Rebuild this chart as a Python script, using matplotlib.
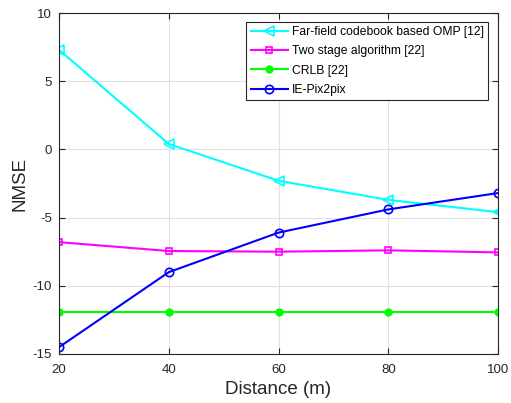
import matplotlib
matplotlib.use("Agg")
import matplotlib.pyplot as plt
import numpy as np

plt.rcParams['font.family'] = ['Liberation Sans', 'DejaVu Sans']
plt.rcParams['axes.unicode_minus'] = False

distance = [20, 40, 60, 80, 100]
omp = [7.3, 0.4, -2.3, -3.7, -4.6]
two_stage = [-6.8, -7.45, -7.5, -7.4, -7.55]
crlb = [-11.9, -11.9, -11.9, -11.9, -11.9]
ie_pix2pix = [-14.5, -9.0, -6.1, -4.4, -3.2]

labels = ['Far-field codebook based OMP [12]', 'Two stage algorithm [22]',
          'CRLB [22]', 'IE-Pix2pix']

fig = plt.figure(figsize=(5.11, 4.03), dpi=100)
ax = fig.add_axes([0.1155, 0.1216, 0.8591, 0.8461])

ax.plot(distance, omp, color='#00ffff', marker='<', mfc='none', ms=7, mew=1.2, lw=1.5, label=labels[0])
ax.plot(distance, two_stage, color='#ff00ff', marker='s', mfc='none', ms=5, mew=1.2, lw=1.5, label=labels[1])
ax.plot(distance, crlb, color='#00ff00', marker='o', ms=5, lw=1.5, label=labels[2])
ax.plot(distance, ie_pix2pix, color='#0000ff', marker='o', mfc='none', ms=6, mew=1.2, lw=1.5, label=labels[3])

ax.set_xlim(20, 100)
ax.set_ylim(-15, 10)
ax.set_xticks([20, 40, 60, 80, 100])
ax.set_yticks([-15, -10, -5, 0, 5, 10])
ax.grid(True, color='#e0e0e0', lw=0.8)
ax.set_axisbelow(True)
ax.tick_params(direction='in', labelsize=9.5, colors='#262626', length=4, top=True, right=True,
               labeltop=False, labelright=False)
ax.tick_params(axis='x', pad=7)
ax.tick_params(axis='y', pad=5)
for s in ax.spines.values():
    s.set_color('#262626')
    s.set_linewidth(0.8)
ax.set_xlabel('Distance (m)', fontsize=13.5, color='#262626', labelpad=4)
ax.set_ylabel('NMSE', fontsize=13.5, color='#262626', labelpad=3)

leg = ax.legend(loc='upper right', bbox_to_anchor=(0.977, 0.974), borderaxespad=0,
                fontsize=8.7, fancybox=False, edgecolor='#262626', framealpha=1,
                handlelength=3.1, borderpad=0.35, labelspacing=0.6, handletextpad=0.3)
leg.get_frame().set_linewidth(0.8)

fig.savefig('out.png', dpi=100)
